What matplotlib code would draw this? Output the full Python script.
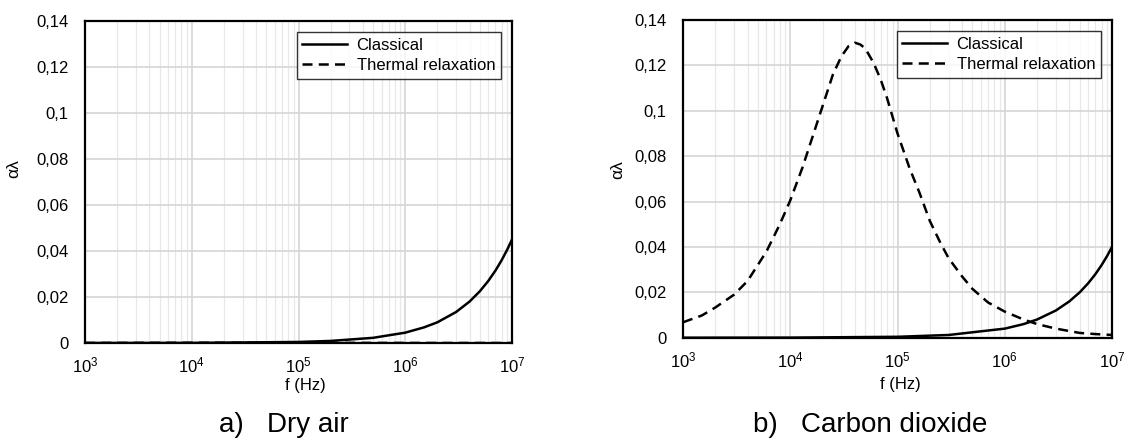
import matplotlib.pyplot as plt
from matplotlib.ticker import FixedLocator, NullFormatter

plt.rcParams['font.family'] = ['Liberation Sans', 'DejaVu Sans']
plt.rcParams['mathtext.fontset'] = 'custom'
plt.rcParams['mathtext.rm'] = 'Liberation Sans'
plt.rcParams['mathtext.it'] = 'Liberation Sans:italic'
plt.rcParams['mathtext.bf'] = 'Liberation Sans:bold'

# --- data ---
# a) dry air
air_f = [1e3, 1e4, 1e5, 2e5, 5e5, 1e6, 1.5e6, 2e6, 3e6, 4e6, 5e6, 6e6, 7e6, 8e6, 9e6, 1e7]
air_classical = [0.0000045, 0.000045, 0.00045, 0.0009, 0.00225, 0.0045, 0.0068, 0.009,
                 0.0135, 0.018, 0.0225, 0.027, 0.0315, 0.036, 0.0405, 0.045]
air_thermal_f = [1e3, 1e4, 1e5, 1e6, 1e7]
air_thermal = [0.00002, 0.0001, 0.0001, 0.00003, 0.000005]

# b) carbon dioxide
co2_f = [1e3, 1e4, 1e5, 3e5, 1e6, 1.5e6, 2e6, 3e6, 4e6, 5e6, 6e6, 7e6, 8e6, 9e6, 1e7]
co2_classical = [0.000004, 0.00004, 0.0004, 0.0012, 0.004, 0.006, 0.008, 0.012, 0.016,
                 0.020, 0.024, 0.028, 0.032, 0.036, 0.040]
co2_thermal_f = [1e3, 1.5e3, 2e3, 3e3, 4e3, 6e3, 8e3, 1e4, 1.3e4, 1.6e4, 2e4, 2.5e4, 3e4,
                 3.5e4, 4e4, 4.5e4, 5e4, 6e4, 7e4, 8e4, 1e5, 1.3e5, 1.6e5, 2e5, 2.5e5, 3e5,
                 4e5, 5e5, 7e5, 1e6, 1.5e6, 2e6, 3e6, 5e6, 7e6, 1e7]
co2_thermal = [0.0068, 0.0098, 0.0133, 0.019, 0.025, 0.038, 0.050, 0.0605, 0.075, 0.088,
               0.102, 0.116, 0.124, 0.1285, 0.130, 0.1292, 0.1275, 0.121, 0.1135, 0.1055,
               0.090, 0.0745, 0.064, 0.0515, 0.042, 0.035, 0.027, 0.0215, 0.0155, 0.0115,
               0.0080, 0.0060, 0.0040, 0.0021, 0.0016, 0.0012]

x_ticks = [1e3, 1e4, 1e5, 1e6, 1e7]
x_tick_labels = [r'$\mathrm{10^{3}}$', r'$\mathrm{10^{4}}$', r'$\mathrm{10^{5}}$',
                 r'$\mathrm{10^{6}}$', r'$\mathrm{10^{7}}$']
y_ticks = [0, 0.02, 0.04, 0.06, 0.08, 0.1, 0.12, 0.14]
y_tick_labels = ['0', '0,02', '0,04', '0,06', '0,08', '0,1', '0,12', '0,14']
series_labels = ['Classical', 'Thermal relaxation']
captions = ['a)   Dry air', 'b)   Carbon dioxide']

W, H = 1129, 440
fig = plt.figure(figsize=(W / 100, H / 100), dpi=100)


def make_axes(box, f_cl, v_cl, f_th, v_th, ylab_x, ylab_y, xlab_x, xlab_y):
    l, t, r, b = box
    ax = fig.add_axes([l / W, 1 - b / H, (r - l) / W, (b - t) / H])
    ax.plot(f_cl, v_cl, color='black', lw=1.8, label=series_labels[0])
    ax.plot(f_th, v_th, color='black', lw=1.8, dashes=(4, 2.5), label=series_labels[1])
    ax.set_xscale('log')
    ax.set_xlim(1e3, 1e7)
    ax.set_ylim(0, 0.14)

    ax.xaxis.set_major_locator(FixedLocator(x_ticks))
    ax.set_xticklabels(x_tick_labels)
    minors = [k * 10 ** d for d in range(3, 7) for k in range(2, 10)]
    ax.xaxis.set_minor_locator(FixedLocator(minors))
    ax.xaxis.set_minor_formatter(NullFormatter())
    ax.set_yticks(y_ticks)
    ax.set_yticklabels(y_tick_labels)

    ax.tick_params(which='both', length=0, labelsize=12, colors='black')
    ax.tick_params(axis='y', pad=12)
    ax.tick_params(axis='x', pad=9)

    ax.grid(which='major', axis='both', color='#d6d6d6', lw=1.2)
    ax.grid(which='minor', axis='x', color='#e8e8e8', lw=0.9)
    ax.set_axisbelow(True)
    for s in ax.spines.values():
        s.set_linewidth(1.6)
        s.set_color('black')

    ax.set_ylabel('αλ', fontsize=12.5)
    ax.yaxis.set_label_coords(ylab_x, ylab_y)
    ax.set_xlabel('f (Hz)', fontsize=12)
    ax.xaxis.set_label_coords(xlab_x, xlab_y)

    leg_x = 1 - 11 / (r - l)
    leg_y = 1 - 11 / (b - t)
    leg = ax.legend(loc='upper right', bbox_to_anchor=(leg_x, leg_y), borderaxespad=0,
                    fontsize=12, frameon=True, fancybox=False, handlelength=2.7,
                    handletextpad=0.55, labelspacing=0.3, borderpad=0.35)
    leg.get_frame().set_edgecolor('black')
    leg.get_frame().set_linewidth(1.0)
    return ax


make_axes((85, 21, 512, 343), air_f, air_classical, air_thermal_f, air_thermal,
          -0.15, 0.543, 0.517, -0.11)
make_axes((683, 20, 1112, 337.7), co2_f, co2_classical, co2_thermal_f, co2_thermal,
          -0.135, 0.528, 0.507, -0.125)

fig.text(219 / W, 1 - 425 / H, captions[0], fontsize=20, ha='left', va='center')
fig.text(753 / W, 1 - 425 / H, captions[1], fontsize=20, ha='left', va='center')

fig.savefig('out.png', dpi=100)
